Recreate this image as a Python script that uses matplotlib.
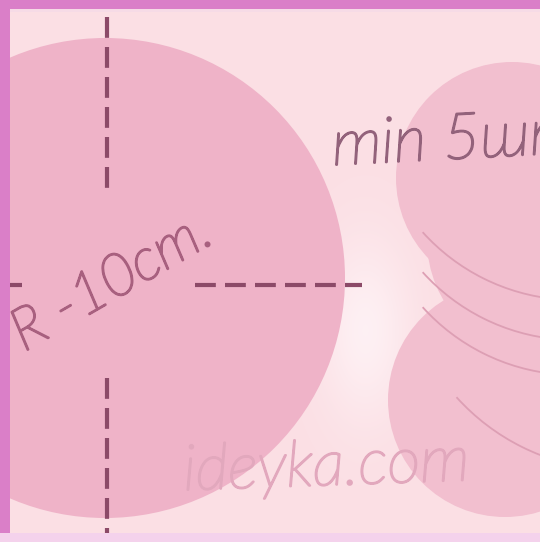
import numpy as np
import matplotlib
matplotlib.use("Agg")
import matplotlib.pyplot as plt
from matplotlib.patches import Circle, Rectangle, Arc
import matplotlib.patheffects as pe

# ---- data ----
big_circle_center = (105, 278)
big_circle_radius = 240
side_circle_centers = [(512, 178), (545, 240), (505, 400)]
side_circle_radii = [116, 118, 117]
arc_centers = [(575, 95), (575, 135), (575, 170), (620, 250)]
arc_radii = [205, 205, 205, 220]
labels = ["R -10cm.", "min 5шт", "ideyka.com"]

W, H = 540, 542
fig = plt.figure(figsize=(W / 100, H / 100), dpi=100)
ax = fig.add_axes([0, 0, 1, 1])
ax.set_xlim(0, W)
ax.set_ylim(H, 0)
ax.axis("off")

# background with soft glow
yy, xx = np.mgrid[0:H, 0:W]
base = np.array([0.985, 0.875, 0.895])
glow = np.exp(-(((xx - 365) / 45.0) ** 2 + ((yy - 330) / 90.0) ** 2))
img = base[None, None, :] * (1 - 0.7 * glow[..., None]) + np.array([1.0, 0.97, 0.98]) * 0.7 * glow[..., None]
ax.imshow(img, extent=(0, W, H, 0), zorder=0)

# big circle
ax.add_patch(Circle(big_circle_center, big_circle_radius, facecolor="#efb3c8",
                    edgecolor="none", zorder=1))

# side stacked circles
for (c, r) in zip(side_circle_centers, side_circle_radii):
    ax.add_patch(Circle(c, r, facecolor="#f2bfcf", edgecolor="none", zorder=2))
# faint arcs showing the stacked edges
for (c, r) in zip(arc_centers, arc_radii):
    ax.add_patch(Arc(c, 2 * r, 2 * r, theta1=95, theta2=138, color="#dd9fb4", lw=1.3, zorder=3))

# dashed guide lines
dash_kw = dict(color="#8c4a68", lw=3.0, dashes=(5, 2.2), zorder=4, solid_capstyle="butt")
ax.plot([107, 107], [17, 193], **dash_kw)
ax.plot([107, 107], [378, 542], **dash_kw)
ax.plot([8, 22], [285, 285], **dash_kw)
ax.plot([195, 362], [285, 285], **dash_kw)

# texts
fam = ["Lato", "DejaVu Sans"]
def hand(x, y, s, rot, size, col):
    ax.text(x, y, s, rotation=rot, rotation_mode="anchor", ha="left", va="baseline",
            fontsize=size, color=col, family=fam, style="italic", weight="light", zorder=5,
            path_effects=[pe.withStroke(linewidth=1.6, foreground=col)])

hand(24, 352, labels[0], 30, 42, "#a8607f")
hand(333, 165, labels[1], 3, 46, "#93627b")
hand(184, 490, labels[2], 2, 46, "#e2a8bd")

# frame borders
ax.add_patch(Rectangle((0, 0), 10, H, facecolor="#da7fc8", edgecolor="none", zorder=6))
ax.add_patch(Rectangle((0, 0), W, 9, facecolor="#da7fc8", edgecolor="none", zorder=6))
ax.add_patch(Rectangle((10, 9), W, 3, facecolor="#f6dbe6", edgecolor="none", zorder=6))
ax.add_patch(Rectangle((0, 533), W, 9, facecolor="#f4d2ec", edgecolor="none", zorder=6))

fig.savefig("out.png", dpi=100)
